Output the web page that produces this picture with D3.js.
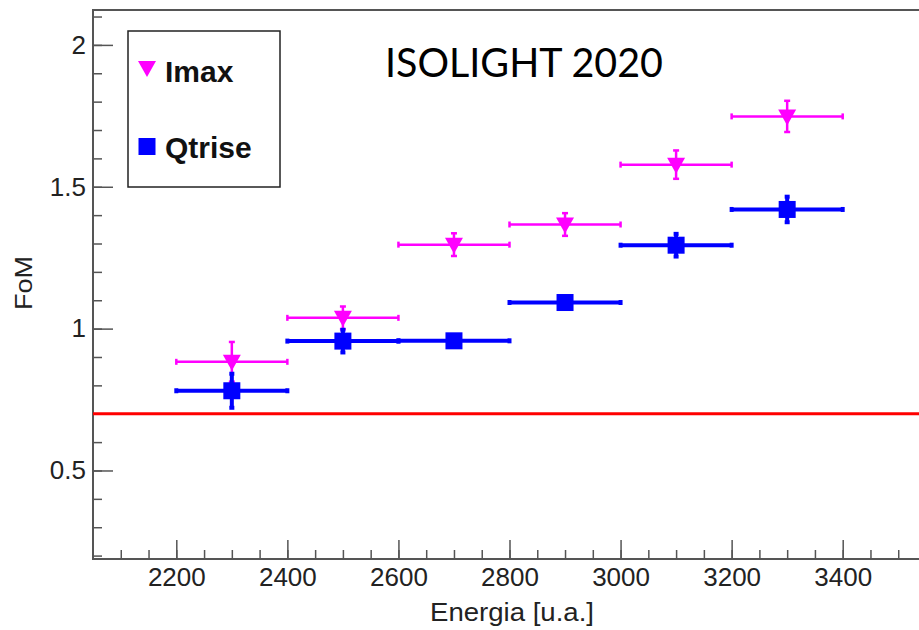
<!DOCTYPE html>
<html>
<head>
<meta charset="utf-8">
<script src="https://cdn.jsdelivr.net/npm/d3@7"></script>
<style>
  html, body { margin: 0; padding: 0; background: #fff; }
  svg { display: block; font-family: "Liberation Sans", Arial, sans-serif; }
</style>
</head>
<body>
<svg id="chart" width="919" height="630"></svg>
<script>
// datos
const energia = [2300, 2500, 2700, 2900, 3100, 3300];
const energiaErr = [100, 100, 100, 100, 100, 100];
const imax = [0.883, 1.038, 1.296, 1.367, 1.578, 1.748];
const imaxErr = [0.07, 0.04, 0.04, 0.04, 0.05, 0.055];
const qtrise = [0.781, 0.956, 0.957, 1.092, 1.294, 1.420];
const qtriseErr = [0.06, 0.04, 0.02, 0.02, 0.04, 0.045];
const umbral = 0.7;

const xMajor = [2200, 2400, 2600, 2800, 3000, 3200, 3400];
const xMinor = d3.range(2100, 3501, 50);
const yMajor = [0.5, 1, 1.5, 2];
const yMinor = d3.range(2, 22).map(d => d / 10);

const svg = d3.select("#chart");
const mIzq = 93, mDer = 926, mSup = 10, mInf = 559;

const x = d3.scaleLinear().domain([2050, 3550]).range([mIzq, mDer]);
const y = d3.scaleLinear().domain([0.188, 2.123]).range([mInf, mSup]);

const axisColor = "#555";

// marco
svg.append("rect")
  .attr("x", mIzq).attr("y", mSup)
  .attr("width", mDer - mIzq).attr("height", mInf - mSup)
  .attr("fill", "none").attr("stroke", axisColor).attr("stroke-width", 2);

// ejes (menores y mayores en grupos separados)
svg.append("g").attr("transform", `translate(0,${mInf})`)
  .call(d3.axisBottom(x).tickValues(xMinor).tickSize(-9).tickFormat(""));
svg.append("g").attr("transform", `translate(0,${mInf})`)
  .call(d3.axisBottom(x).tickValues(xMajor).tickSize(-19).tickPadding(8).tickFormat(d3.format("d")))
  .selectAll("text").attr("font-size", 26).attr("fill", "#222").attr("dy", "0.71em").attr("y", 9);

svg.append("g").attr("transform", `translate(${mIzq},0)`)
  .call(d3.axisLeft(y).tickValues(yMinor).tickSize(-9).tickFormat(""));
svg.append("g").attr("transform", `translate(${mIzq},0)`)
  .call(d3.axisLeft(y).tickValues(yMajor).tickSize(-20).tickPadding(7).tickFormat(d => d))
  .selectAll("text").attr("font-size", 26).attr("fill", "#222");

svg.selectAll("path.domain").remove();
svg.selectAll(".tick line").attr("stroke", axisColor).attr("stroke-width", 1.5);

// titulos de ejes
svg.append("text")
  .attr("x", 512).attr("y", 621)
  .attr("text-anchor", "middle")
  .attr("font-size", 25).attr("fill", "#222")
  .attr("textLength", 164).attr("lengthAdjust", "spacingAndGlyphs")
  .text("Energia [u.a.]");

svg.append("text")
  .attr("transform", `translate(32,283) rotate(-90)`)
  .attr("text-anchor", "middle")
  .attr("font-size", 23).attr("fill", "#222")
  .attr("textLength", 54).attr("lengthAdjust", "spacingAndGlyphs")
  .text("FoM");

// linea roja
svg.append("line")
  .attr("x1", mIzq).attr("x2", mDer)
  .attr("y1", y(umbral)).attr("y2", y(umbral))
  .attr("stroke", "#ff0000").attr("stroke-width", 3);

const serieImax = energia.map((e, i) => ({ x: e, ex: energiaErr[i], y: imax[i], ey: imaxErr[i] }));
const serieQ = energia.map((e, i) => ({ x: e, ex: energiaErr[i], y: qtrise[i], ey: qtriseErr[i] }));

function errores(data, color, width, cap) {
  const g = svg.append("g").attr("stroke", color).attr("stroke-width", width);
  data.forEach(d => {
    g.append("line")
      .attr("x1", x(d.x - d.ex)).attr("x2", x(d.x + d.ex))
      .attr("y1", y(d.y)).attr("y2", y(d.y));
    g.append("line")
      .attr("x1", x(d.x)).attr("x2", x(d.x))
      .attr("y1", y(d.y - d.ey)).attr("y2", y(d.y + d.ey));
    // terminaciones
    [d.x - d.ex, d.x + d.ex].forEach(v => {
      g.append("line")
        .attr("x1", x(v)).attr("x2", x(v))
        .attr("y1", y(d.y) - cap).attr("y2", y(d.y) + cap);
    });
    [d.y - d.ey, d.y + d.ey].forEach(v => {
      g.append("line")
        .attr("x1", x(d.x) - cap).attr("x2", x(d.x) + cap)
        .attr("y1", y(v)).attr("y2", y(v));
    });
  });
  return g;
}

const trianguloAbajo = "M-9,-7 L9,-7 L0,9 Z";

errores(serieImax, "#ff00ff", 2.5, 3);
svg.append("g").selectAll("path")
  .data(serieImax)
  .enter().append("path")
  .attr("d", trianguloAbajo)
  .attr("transform", d => `translate(${x(d.x)},${y(d.y)})`)
  .attr("fill", "#ff00ff");

errores(serieQ, "#0000ff", 4, 2.5);
svg.append("g").selectAll("rect")
  .data(serieQ)
  .enter().append("rect")
  .attr("x", d => x(d.x) - 8.5).attr("y", d => y(d.y) - 8.5)
  .attr("width", 17).attr("height", 17)
  .attr("fill", "#0000ff");

// leyenda
const leg = svg.append("g");
leg.append("rect")
  .attr("x", 128).attr("y", 31).attr("width", 152).attr("height", 156)
  .attr("fill", "#fff").attr("stroke", "#222").attr("stroke-width", 1.5);
leg.append("path").attr("d", trianguloAbajo)
  .attr("transform", "translate(147,68)").attr("fill", "#ff00ff");
leg.append("text").attr("x", 165).attr("y", 81.5)
  .attr("font-size", 30).attr("font-weight", "bold").attr("fill", "#111")
  .text("Imax");
leg.append("rect").attr("x", 138.5).attr("y", 138).attr("width", 17).attr("height", 17)
  .attr("fill", "#0000ff");
leg.append("text").attr("x", 165).attr("y", 157.5)
  .attr("font-size", 30).attr("font-weight", "bold").attr("fill", "#111")
  .text("Qtrise");

// titulo
svg.append("text")
  .attr("x", 385).attr("y", 77)
  .attr("font-family", "Lato, 'Liberation Sans', sans-serif")
  .attr("font-size", 41).attr("fill", "#000")
  .attr("textLength", 278).attr("lengthAdjust", "spacingAndGlyphs")
  .text("ISOLIGHT 2020");
</script>
</body>
</html>
